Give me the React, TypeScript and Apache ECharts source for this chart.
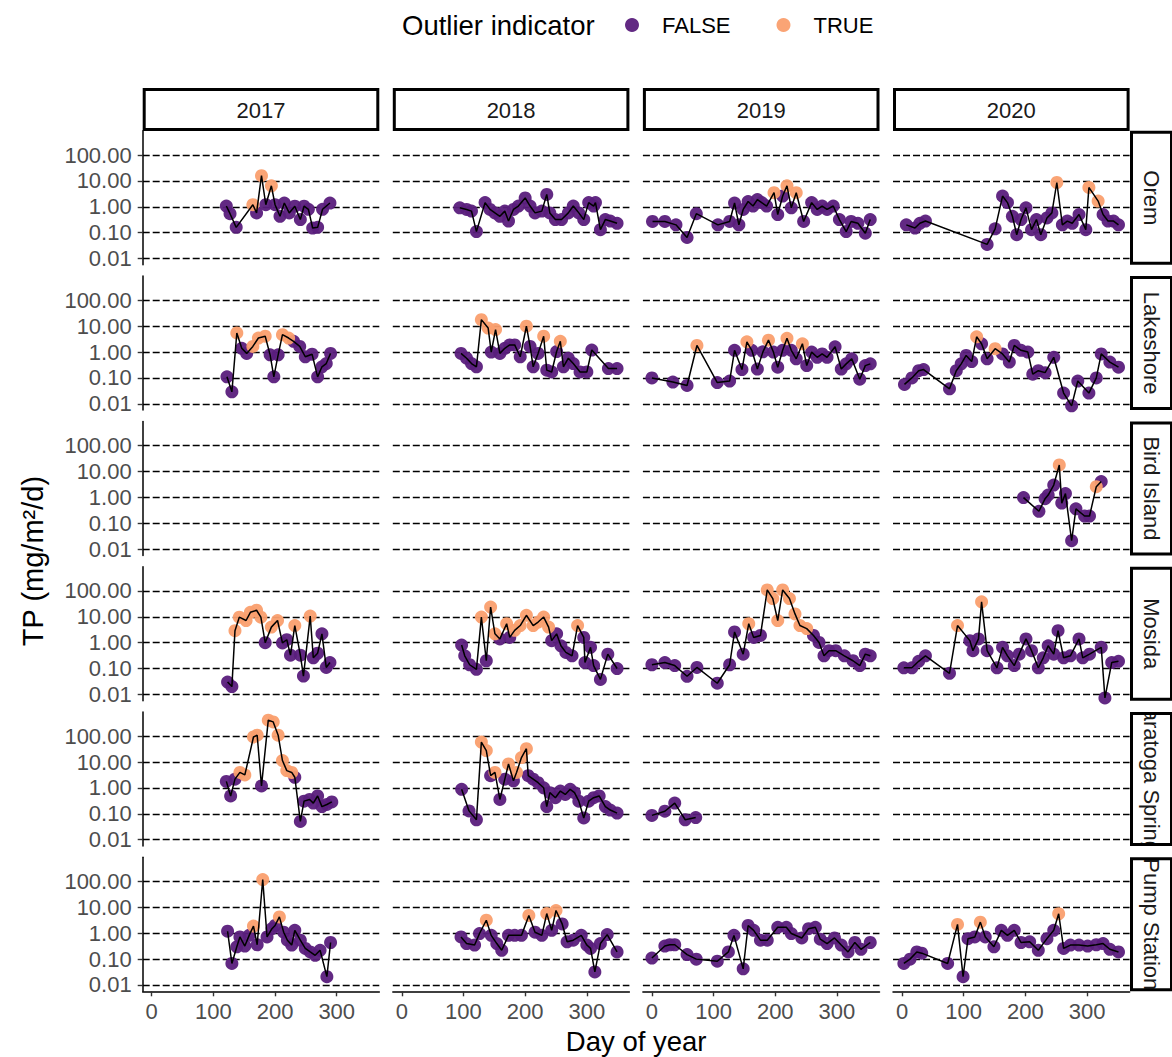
import React, { useEffect, useRef } from "react";
import * as echarts from "echarts";

// [day of year, TP (mg/m²/d), outlier flag (1 = TRUE)]
type Obs = [number, number, number];

const years = ["2017", "2018", "2019", "2020"];
const sites = ["Orem", "Lakeshore", "Bird Island", "Mosida", "Saratoga Springs", "Pump Station"];
const yTicks = [0.01, 0.1, 1, 10, 100];
const xTicks = [0, 100, 200, 300];
const outlierLevels = ["FALSE", "TRUE"];

const orem2017: Obs[] = [
  [121, 1.07, 0], [127, 0.54, 0], [137, 0.16, 0], [164, 1.2, 1], [170, 0.58, 0], [178, 16, 1],
  [185, 1.2, 0], [194, 6.5, 1], [200, 1.2, 0], [208, 0.43, 0], [215, 1.4, 0], [223, 0.58, 0],
  [232, 1.05, 0], [241, 0.32, 0], [247, 1.05, 0], [254, 0.8, 0], [261, 0.15, 0], [269, 0.16, 0],
  [277, 0.8, 0], [289, 1.4, 0],
];
const orem2018: Obs[] = [
  [94, 0.91, 0], [105, 0.79, 0], [113, 0.68, 0], [121, 0.11, 0], [135, 1.45, 0], [143, 0.79, 0],
  [151, 0.58, 0], [159, 0.43, 0], [167, 0.68, 0], [173, 0.28, 0], [181, 0.79, 0], [189, 1.07, 0],
  [200, 2.2, 0], [208, 1.07, 0], [216, 0.58, 0], [227, 0.68, 0], [235, 3.0, 0], [240, 0.58, 0],
  [249, 0.32, 0], [259, 0.32, 0], [270, 0.58, 0], [278, 1.07, 0], [287, 0.58, 0], [295, 0.32, 0],
  [303, 1.45, 0], [311, 1.07, 0], [314, 1.45, 0], [322, 0.13, 0], [330, 0.32, 0], [338, 0.28, 0],
  [349, 0.23, 0],
];
const orem2019: Obs[] = [
  [1, 0.27, 0], [21, 0.27, 0], [39, 0.2, 0], [57, 0.065, 0], [72, 0.54, 0], [107, 0.2, 0],
  [126, 0.27, 0], [134, 1.4, 0], [141, 0.2, 0], [148, 0.79, 0], [156, 1.6, 0], [164, 1.07, 0],
  [171, 1.9, 0], [178, 1.45, 0], [186, 1.07, 0], [198, 3.5, 1], [204, 0.5, 0], [212, 2.6, 0],
  [219, 6.5, 1], [226, 0.91, 0], [234, 3.5, 1], [246, 0.27, 0], [259, 1.45, 0], [268, 0.79, 0],
  [276, 1.07, 0], [284, 0.79, 0], [294, 1.07, 0], [304, 0.32, 0], [315, 0.11, 0], [323, 0.27, 0],
  [334, 0.23, 0], [346, 0.095, 0], [354, 0.32, 0],
];
const orem2020: Obs[] = [
  [7, 0.2, 0], [21, 0.15, 0], [29, 0.23, 0], [38, 0.28, 0], [138, 0.035, 0], [151, 0.14, 0],
  [163, 2.6, 0], [171, 1.45, 0], [179, 0.43, 0], [186, 0.083, 0], [193, 0.32, 0], [201, 0.91, 0],
  [210, 0.13, 0], [218, 0.32, 0], [225, 0.083, 0], [235, 0.37, 0], [243, 0.58, 0], [251, 8.7, 1],
  [260, 0.2, 0], [268, 0.28, 0], [276, 0.23, 0], [287, 0.5, 0], [298, 0.13, 0], [303, 5.6, 1],
  [318, 1.66, 1], [326, 0.5, 0], [334, 0.28, 0], [343, 0.28, 0], [351, 0.2, 0],
];

const lakeshore2017: Obs[] = [
  [122, 0.11, 0], [130, 0.029, 0], [138, 5.5, 1], [146, 1.4, 0], [154, 0.89, 0], [164, 1.66, 1],
  [173, 3.5, 1], [184, 4.1, 1], [192, 0.78, 0], [198, 0.11, 0], [205, 0.78, 0], [212, 4.7, 1],
  [222, 3.5, 1], [230, 2.6, 0], [240, 1.66, 0], [249, 0.66, 0], [260, 0.83, 0], [269, 0.11, 0],
  [276, 0.27, 0], [283, 0.36, 0], [290, 0.89, 0],
];
const lakeshore2018: Obs[] = [
  [96, 0.89, 0], [105, 0.58, 0], [113, 0.36, 0], [121, 0.27, 0], [129, 18, 1], [140, 8.5, 1],
  [145, 1.0, 0], [152, 7.4, 1], [159, 0.89, 0], [167, 1.4, 0], [175, 1.9, 0], [183, 1.9, 0],
  [192, 0.66, 0], [202, 10, 1], [208, 1.66, 0], [213, 0.27, 0], [221, 0.89, 0], [230, 4.1, 1],
  [235, 0.2, 0], [243, 0.17, 0], [251, 1.05, 0], [257, 2.6, 1], [262, 0.27, 0], [270, 0.58, 0],
  [278, 0.36, 0], [289, 0.17, 0], [300, 0.17, 0], [308, 1.2, 0], [335, 0.23, 0], [349, 0.23, 0],
];
const lakeshore2019: Obs[] = [
  [0, 0.1, 0], [34, 0.069, 0], [57, 0.051, 0], [73, 1.8, 1], [106, 0.066, 0], [126, 0.076, 0],
  [134, 1.17, 0], [146, 0.21, 0], [154, 2.5, 1], [162, 1.17, 0], [171, 0.22, 0], [180, 1.02, 0],
  [189, 2.9, 1], [197, 1.0, 0], [204, 0.26, 0], [212, 1.17, 0], [219, 3.4, 1], [226, 1.17, 0],
  [234, 0.55, 0], [244, 2.1, 1], [251, 0.3, 0], [259, 1.0, 0], [268, 0.63, 0], [276, 0.85, 0],
  [284, 0.63, 0], [297, 1.6, 0], [307, 0.22, 0], [315, 0.35, 0], [324, 0.55, 0], [337, 0.089, 0],
  [346, 0.3, 0], [354, 0.35, 0],
];
const lakeshore2020: Obs[] = [
  [4, 0.056, 0], [16, 0.1, 0], [27, 0.19, 0], [35, 0.21, 0], [77, 0.038, 0], [88, 0.19, 0],
  [96, 0.35, 0], [104, 0.74, 0], [113, 0.43, 0], [121, 3.9, 1], [129, 2.1, 0], [138, 0.55, 0],
  [151, 1.35, 1], [163, 0.85, 0], [174, 0.41, 0], [182, 1.8, 0], [193, 1.17, 0], [204, 1.0, 0],
  [212, 0.14, 0], [221, 0.19, 0], [232, 0.16, 0], [246, 0.63, 0], [262, 0.026, 0], [275, 0.0083, 0],
  [285, 0.076, 0], [303, 0.026, 0], [315, 0.1, 0], [323, 0.85, 0], [337, 0.41, 0], [351, 0.26, 0],
];

const birdIsland2020: Obs[] = [
  [197, 0.98, 0], [222, 0.29, 0], [232, 0.89, 0], [237, 1.23, 0], [246, 3.0, 0], [255, 18, 1],
  [259, 0.6, 0], [265, 1.4, 0], [275, 0.021, 0], [282, 0.36, 0], [296, 0.19, 0], [304, 0.19, 0],
  [315, 2.6, 1], [323, 4.1, 0],
];

const mosida2017: Obs[] = [
  [123, 0.03, 0], [130, 0.02, 0], [135, 2.9, 1], [142, 9.7, 1], [153, 7.2, 1], [160, 15, 1],
  [170, 18, 1], [177, 9.7, 1], [184, 1.0, 0], [194, 4.0, 1], [204, 7.2, 1], [212, 0.98, 0],
  [219, 1.3, 0], [225, 0.33, 0], [232, 4.6, 1], [241, 0.33, 0], [246, 0.051, 0], [257, 10.7, 1],
  [262, 0.26, 0], [269, 0.39, 0], [276, 2.2, 0], [283, 0.11, 0], [289, 0.17, 0],
];
const mosida2018: Obs[] = [
  [97, 0.81, 0], [102, 0.31, 0], [110, 0.14, 0], [121, 0.093, 0], [129, 9.8, 1], [137, 0.2, 0],
  [144, 24, 1], [151, 2.2, 1], [159, 1.4, 0], [170, 5.4, 1], [175, 1.6, 0], [183, 3.0, 1],
  [192, 4.6, 1], [202, 11.5, 1], [213, 4.6, 1], [221, 6.3, 1], [230, 9.8, 1], [238, 4.0, 1],
  [243, 1.2, 0], [251, 2.2, 0], [258, 0.76, 0], [266, 0.42, 0], [276, 0.31, 0], [285, 4.6, 1],
  [295, 1.6, 0], [297, 0.17, 0], [306, 0.66, 0], [311, 0.13, 0], [322, 0.038, 0], [334, 0.36, 0],
  [349, 0.1, 0],
];
const mosida2019: Obs[] = [
  [0, 0.14, 0], [21, 0.17, 0], [37, 0.13, 0], [57, 0.05, 0], [73, 0.11, 0], [106, 0.027, 0],
  [126, 0.14, 0], [134, 2.6, 0], [148, 0.36, 0], [157, 5.4, 1], [165, 1.6, 0], [176, 1.9, 0],
  [187, 110, 1], [196, 51, 1], [204, 7.2, 1], [212, 110, 1], [223, 51, 1], [232, 13, 1],
  [240, 4.6, 1], [251, 3.5, 1], [262, 1.9, 0], [271, 1.02, 0], [279, 0.31, 0], [287, 0.49, 0],
  [298, 0.49, 0], [312, 0.31, 0], [326, 0.2, 0], [337, 0.13, 0], [346, 0.36, 0], [354, 0.31, 0],
];
const mosida2020: Obs[] = [
  [3, 0.107, 0], [16, 0.107, 0], [27, 0.19, 0], [38, 0.31, 0], [77, 0.065, 0], [90, 4.6, 1],
  [110, 1.2, 0], [115, 0.49, 0], [124, 1.4, 0], [129, 38, 1], [138, 0.49, 0], [154, 0.107, 0],
  [163, 0.66, 0], [171, 0.31, 0], [182, 0.13, 0], [190, 0.36, 0], [201, 1.4, 0], [210, 0.49, 0],
  [221, 0.107, 0], [229, 0.26, 0], [237, 0.76, 0], [246, 0.36, 0], [253, 2.9, 0], [262, 0.26, 0],
  [273, 0.31, 0], [287, 1.4, 0], [293, 0.26, 0], [304, 0.36, 0], [323, 0.66, 0], [329, 0.0073, 0],
  [340, 0.17, 0], [351, 0.19, 0],
];

const saratoga2017: Obs[] = [
  [121, 1.8, 0], [128, 0.49, 0], [135, 2.2, 0], [143, 4.0, 1], [151, 3.2, 1], [165, 94, 1],
  [171, 110, 1], [178, 1.2, 0], [189, 420, 1], [197, 360, 1], [205, 110, 1], [212, 11.5, 1],
  [219, 4.7, 1], [227, 4.0, 1], [232, 2.6, 0], [241, 0.051, 0], [247, 0.31, 0], [256, 0.36, 0],
  [262, 0.26, 0], [269, 0.49, 0], [276, 0.19, 0], [284, 0.23, 0], [292, 0.29, 0],
];
const saratoga2018: Obs[] = [
  [97, 0.89, 0], [109, 0.13, 0], [121, 0.059, 0], [129, 60, 1], [137, 28, 1], [144, 3.0, 0],
  [151, 4.0, 1], [159, 0.36, 0], [167, 2.2, 0], [173, 8.5, 1], [181, 1.9, 0], [186, 4.0, 1],
  [194, 15, 1], [202, 33, 1], [205, 3.0, 0], [213, 2.2, 0], [221, 1.6, 0], [230, 1.02, 0],
  [235, 0.19, 0], [240, 0.66, 0], [249, 0.42, 0], [257, 0.76, 0], [265, 0.56, 0], [273, 0.89, 0],
  [280, 0.66, 0], [287, 0.31, 0], [295, 0.069, 0], [303, 0.31, 0], [311, 0.42, 0], [320, 0.49, 0],
  [330, 0.19, 0], [338, 0.14, 0], [349, 0.107, 0],
];
const saratoga2019: Obs[] = [
  [0, 0.087, 0], [21, 0.126, 0], [37, 0.26, 0], [54, 0.059, 0], [71, 0.072, 0],
];

const pump2017: Obs[] = [
  [123, 1.2, 0], [130, 0.068, 0], [138, 0.3, 0], [143, 0.72, 0], [151, 0.32, 0], [158, 0.83, 0],
  [165, 1.9, 1], [171, 0.36, 0], [180, 120, 1], [187, 0.72, 0], [195, 1.5, 0], [200, 2.0, 0],
  [207, 4.3, 1], [214, 1.1, 0], [220, 0.54, 0], [227, 0.35, 0], [232, 1.3, 0], [241, 0.54, 0],
  [249, 0.26, 0], [257, 0.19, 0], [265, 0.14, 0], [273, 0.22, 0], [284, 0.021, 0], [290, 0.44, 0],
];
const pump2018: Obs[] = [
  [96, 0.72, 0], [105, 0.4, 0], [118, 0.35, 0], [126, 0.98, 0], [137, 3.2, 1], [145, 0.83, 0],
  [154, 0.4, 0], [162, 0.22, 0], [173, 0.83, 0], [183, 0.83, 0], [194, 0.83, 0], [206, 4.9, 1],
  [216, 1.1, 0], [227, 0.83, 0], [235, 5.8, 1], [243, 1.3, 0], [250, 7.6, 1], [260, 2.3, 0],
  [268, 0.47, 0], [278, 0.54, 0], [291, 0.83, 0], [300, 0.35, 0], [306, 0.26, 0], [313, 0.032, 0],
  [322, 0.4, 0], [333, 0.89, 0], [349, 0.19, 0],
];
const pump2019: Obs[] = [
  [0, 0.11, 0], [21, 0.32, 0], [29, 0.36, 0], [37, 0.36, 0], [57, 0.15, 0], [72, 0.1, 0],
  [106, 0.083, 0], [124, 0.19, 0], [133, 0.83, 0], [148, 0.042, 0], [156, 2.0, 0], [165, 1.3, 0],
  [176, 0.54, 0], [187, 0.54, 0], [204, 1.7, 0], [218, 1.7, 0], [226, 0.98, 0], [243, 0.66, 0],
  [254, 1.5, 0], [265, 1.7, 0], [273, 0.59, 0], [284, 0.4, 0], [296, 0.66, 0], [307, 0.35, 0],
  [318, 0.19, 0], [329, 0.44, 0], [339, 0.24, 0], [354, 0.44, 0],
];
const pump2020: Obs[] = [
  [3, 0.068, 0], [13, 0.1, 0], [24, 0.19, 0], [32, 0.17, 0], [74, 0.068, 0], [90, 2.2, 1],
  [99, 0.021, 0], [107, 0.62, 0], [118, 0.72, 0], [127, 2.7, 1], [135, 0.72, 0], [149, 0.3, 0],
  [161, 1.3, 0], [171, 0.83, 0], [182, 1.3, 0], [193, 0.44, 0], [207, 0.47, 0], [221, 0.22, 0],
  [235, 0.62, 0], [246, 1.3, 0], [254, 5.7, 1], [262, 0.26, 0], [273, 0.35, 0], [287, 0.35, 0],
  [301, 0.32, 0], [315, 0.36, 0], [326, 0.4, 0], [337, 0.24, 0], [351, 0.19, 0],
];

// site -> one entry per year (null where nothing was sampled)
const panelData: Record<string, (Obs[] | null)[]> = {
  "Orem": [orem2017, orem2018, orem2019, orem2020],
  "Lakeshore": [lakeshore2017, lakeshore2018, lakeshore2019, lakeshore2020],
  "Bird Island": [null, null, null, birdIsland2020],
  "Mosida": [mosida2017, mosida2018, mosida2019, mosida2020],
  "Saratoga Springs": [saratoga2017, saratoga2018, saratoga2019, null],
  "Pump Station": [pump2017, pump2018, pump2019, pump2020],
};

const FONT = "'Liberation Sans', Arial, Helvetica, sans-serif";
const PURPLE = "#5a1d7c";
const ORANGE = "#fa9f6e";

const LEFT0 = 142.7;
const COL_STEP = 250.1;
const PANEL_W = 236.6;
const TOP0 = 130.8;
const ROW_STEP = 145.3;
const PANEL_H = 134;
const X_MIN = -14.6;
const X_MAX = 369;
const Y_MIN = 0.00569;
const Y_MAX = 871;
const STRIP_X = 1131.5;
const STRIP_W = 40;

function buildOption() {
  const grid: any[] = [];
  const xAxis: any[] = [];
  const yAxis: any[] = [];
  const series: any[] = [];
  const graphic: any[] = [];

  sites.forEach((site, r) => {
    years.forEach((year, c) => {
      const idx = r * 4 + c;
      const left = LEFT0 + COL_STEP * c;
      const top = TOP0 + ROW_STEP * r;
      const bottomRow = r === sites.length - 1;
      const firstCol = c === 0;
      grid.push({ left, top, width: PANEL_W, height: PANEL_H, containLabel: false });
      xAxis.push({
        gridIndex: idx,
        type: "value",
        min: X_MIN,
        max: X_MAX,
        axisLine: { show: bottomRow, onZero: false, lineStyle: { color: "#000", width: 1.5 } },
        axisTick: { show: bottomRow, customValues: xTicks, length: 5, lineStyle: { color: "#333", width: 1.4 } },
        axisLabel: {
          show: bottomRow,
          customValues: xTicks,
          fontSize: 22,
          color: "#4d4d4d",
          fontFamily: FONT,
          margin: 9,
        },
        splitLine: { show: false },
      });
      yAxis.push({
        gridIndex: idx,
        type: "log",
        logBase: 10,
        min: Y_MIN,
        max: Y_MAX,
        axisLine: { show: firstCol, onZero: false, lineStyle: { color: "#000", width: 1.5 } },
        axisTick: { show: firstCol, customValues: yTicks, length: 5, lineStyle: { color: "#333", width: 1.4 } },
        axisLabel: {
          show: firstCol,
          customValues: yTicks,
          formatter: (v: number) => v.toFixed(2),
          fontSize: 22,
          color: "#4d4d4d",
          fontFamily: FONT,
          margin: 11,
        },
        splitLine: { show: true, lineStyle: { color: "#000", width: 1.4, type: [7, 3] } },
      });

      const obs = panelData[site][c];
      if (obs) {
        outlierLevels.forEach((level, flag) => {
          series.push({
            name: level,
            type: "scatter",
            xAxisIndex: idx,
            yAxisIndex: idx,
            symbol: "circle",
            symbolSize: 13,
            itemStyle: { color: flag ? ORANGE : PURPLE, opacity: 0.95 },
            data: obs.filter((o) => o[2] === flag).map((o) => [o[0], o[1]]),
            z: 2,
            silent: true,
          });
        });
        series.push({
          name: `${site} ${year}`,
          type: "line",
          xAxisIndex: idx,
          yAxisIndex: idx,
          showSymbol: false,
          symbol: "none",
          lineStyle: { color: "#000", width: 1.5 },
          data: obs.map((o) => [o[0], o[1]]),
          z: 3,
          silent: true,
        });
      }
    });
  });

  // column strips (years)
  years.forEach((year, c) => {
    const left = LEFT0 + COL_STEP * c;
    graphic.push({
      type: "rect",
      shape: { x: left + 1.5, y: 89.5, width: PANEL_W - 3, height: 40 },
      style: { fill: "#fff", stroke: "#000", lineWidth: 3 },
      z: 100,
    });
    graphic.push({
      type: "text",
      x: left + PANEL_W / 2,
      y: 110,
      style: { text: year, fill: "#1a1a1a", fontSize: 22, fontFamily: FONT, align: "center", verticalAlign: "middle" },
      z: 101,
    });
  });

  // row strips (sites); long labels are clipped to their box with white masks
  const longLabels = ["Saratoga Springs"];
  let z = 110;
  const addStripText = (site: string, r: number) => {
    const top = TOP0 + ROW_STEP * r;
    graphic.push({
      type: "text",
      x: STRIP_X + STRIP_W / 2,
      y: top + PANEL_H / 2,
      rotation: -Math.PI / 2,
      style: { text: site, fill: "#1a1a1a", fontSize: 22, fontFamily: FONT, align: "center", verticalAlign: "middle" },
      z: z++,
    });
  };
  const addMask = (r: number, reach: number) => {
    const top = TOP0 + ROW_STEP * r;
    graphic.push({
      type: "rect",
      shape: { x: STRIP_X + 1, y: top - reach, width: STRIP_W + 10, height: reach + 2 },
      style: { fill: "#fff" },
      z: z++,
    });
    graphic.push({
      type: "rect",
      shape: { x: STRIP_X + 1, y: top + PANEL_H - 2, width: STRIP_W + 10, height: reach + 2 },
      style: { fill: "#fff" },
      z: z++,
    });
  };
  sites.forEach((site, r) => {
    const top = TOP0 + ROW_STEP * r;
    graphic.push({
      type: "rect",
      shape: { x: STRIP_X, y: top + 1.5, width: STRIP_W, height: PANEL_H - 3 },
      style: { fill: "#fff" },
      z: z++,
    });
  });
  sites.forEach((site, r) => {
    if (longLabels.includes(site)) {
      addStripText(site, r);
      addMask(r, 30);
    }
  });
  sites.forEach((site, r) => {
    if (!longLabels.includes(site)) {
      addStripText(site, r);
      addMask(r, 10);
    }
  });
  sites.forEach((site, r) => {
    const top = TOP0 + ROW_STEP * r;
    graphic.push({
      type: "rect",
      shape: { x: STRIP_X, y: top + 1.5, width: STRIP_W, height: PANEL_H - 3 },
      style: { fill: "none", stroke: "#000", lineWidth: 3 },
      z: z++,
    });
  });

  // axis titles and legend title
  graphic.push({
    type: "text",
    x: 33,
    y: TOP0 + (ROW_STEP * 5 + PANEL_H) / 2,
    rotation: Math.PI / 2,
    style: { text: "TP (mg/m²/d)", fill: "#000", fontSize: 29, fontFamily: FONT, align: "center", verticalAlign: "middle" },
    z: 200,
  });
  graphic.push({
    type: "text",
    x: LEFT0 + (COL_STEP * 3 + PANEL_W) / 2,
    y: 1041,
    style: { text: "Day of year", fill: "#000", fontSize: 27.5, fontFamily: FONT, align: "center", verticalAlign: "middle" },
    z: 200,
  });
  graphic.push({
    type: "text",
    x: 402,
    y: 25,
    style: { text: "Outlier indicator", fill: "#000", fontSize: 27.5, fontFamily: FONT, align: "left", verticalAlign: "middle" },
    z: 200,
  });

  return {
    animation: false,
    backgroundColor: "#fff",
    textStyle: { fontFamily: FONT },
    legend: {
      data: outlierLevels,
      left: 620,
      top: 9,
      icon: "circle",
      itemWidth: 14,
      itemHeight: 14,
      itemGap: 46,
      selectedMode: false,
      textStyle: { fontSize: 22, color: "#000", fontFamily: FONT, padding: [0, 0, 0, 18] },
    },
    grid,
    xAxis,
    yAxis,
    series,
    graphic,
  };
}

export default function App() {
  const ref = useRef<HTMLDivElement>(null);
  useEffect(() => {
    if (!ref.current) return;
    const chart = echarts.init(ref.current, null, { renderer: "svg" });
    chart.setOption(buildOption() as any);
    return () => chart.dispose();
  }, []);
  return (
    <div
      ref={ref}
      style={{ position: "absolute", left: 0, top: 0, width: 1172, height: 1057, background: "#fff" }}
    />
  );
}
